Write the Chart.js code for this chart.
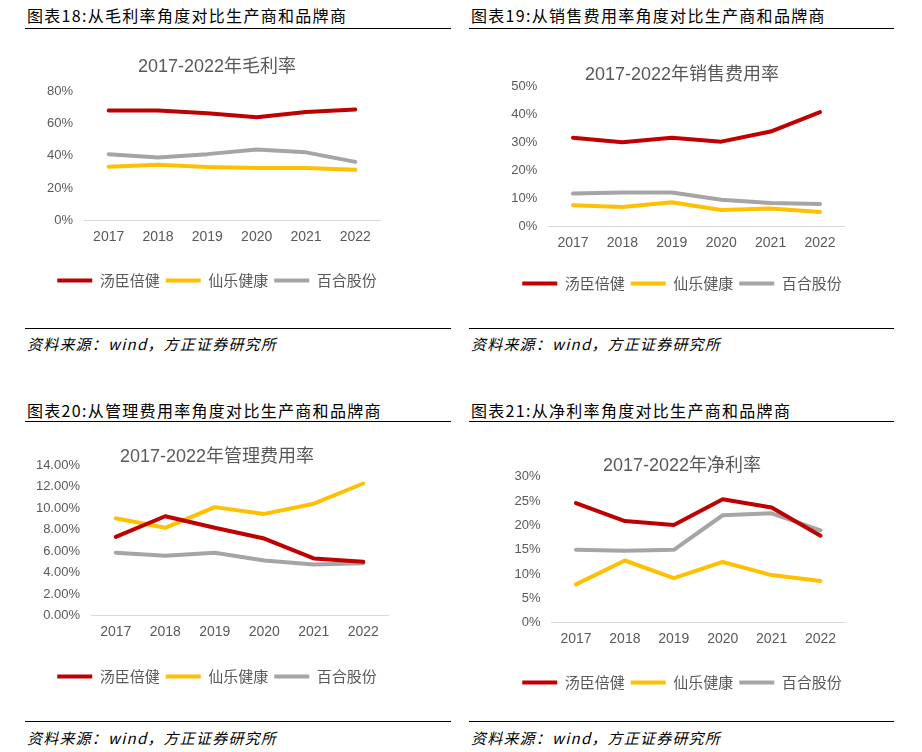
<!DOCTYPE html>
<html>
<head>
<meta charset="utf-8">
<script src="https://cdn.jsdelivr.net/npm/chart.js@4.4.1/dist/chart.umd.min.js"></script>
<style>
  body { margin: 0; background: #fff; width: 922px; height: 752px; position: relative; overflow: hidden; }
  .head { position: absolute; font-family: "Noto Sans CJK SC", sans-serif; font-size: 16px; letter-spacing: 1.3px; color: #000; line-height: 20px; white-space: nowrap; }
  .src { position: absolute; font-family: "Noto Sans CJK SC", sans-serif; font-style: italic; font-size: 15px; letter-spacing: 1.2px; color: #000; line-height: 20px; white-space: nowrap; }
  .rule { position: absolute; height: 1px; background: #000; }
  canvas { position: absolute; }
</style>
</head>
<body>
<div class="head" style="left:27px;top:5px">图表18:从毛利率角度对比生产商和品牌商</div>
<div class="rule" style="left:25px;top:28px;width:426px"></div>
<div class="head" style="left:471px;top:5px">图表19:从销售费用率角度对比生产商和品牌商</div>
<div class="rule" style="left:469px;top:28px;width:425px"></div>
<div class="rule" style="left:25px;top:328px;width:426px"></div>
<div class="src" style="left:27px;top:334px">资料来源：wind，方正证券研究所</div>
<div class="rule" style="left:469px;top:328px;width:425px"></div>
<div class="src" style="left:471px;top:334px">资料来源：wind，方正证券研究所</div>

<div class="head" style="left:27px;top:400px">图表20:从管理费用率角度对比生产商和品牌商</div>
<div class="rule" style="left:25px;top:421px;width:426px"></div>
<div class="head" style="left:471px;top:400px">图表21:从净利率角度对比生产商和品牌商</div>
<div class="rule" style="left:469px;top:421px;width:425px"></div>
<div class="rule" style="left:25px;top:721px;width:426px"></div>
<div class="src" style="left:27px;top:728px">资料来源：wind，方正证券研究所</div>
<div class="rule" style="left:469px;top:721px;width:425px"></div>
<div class="src" style="left:471px;top:728px">资料来源：wind，方正证券研究所</div>

<canvas id="c1" width="384" height="258" style="left:25px;top:40px"></canvas>
<canvas id="c2" width="424" height="261" style="left:470px;top:40px"></canvas>
<canvas id="c3" width="384" height="264" style="left:25px;top:430px"></canvas>
<canvas id="c4" width="424" height="270" style="left:470px;top:430px"></canvas>

<script>
// 年份和公司
const years = ["2017", "2018", "2019", "2020", "2021", "2022"];
const companies = ["汤臣倍健", "仙乐健康", "百合股份"];
const colors = ["#C00000", "#FFC000", "#A5A5A5"];

// 毛利率 (%)
const grossTC = [68.0, 68.0, 66.3, 63.8, 67.0, 68.6];
const grossXL = [33.2, 34.5, 33.0, 32.4, 32.4, 31.3];
const grossBH = [41.0, 38.9, 41.0, 43.8, 42.1, 36.2];

// 销售费用率 (%)
const salesTC = [31.6, 30.0, 31.6, 30.2, 33.8, 40.7];
const salesXL = [7.6, 6.9, 8.6, 5.9, 6.4, 5.2];
const salesBH = [11.7, 12.1, 12.1, 9.5, 8.4, 8.0];

// 管理费用率 (%)
const adminTC = [7.32, 9.23, 8.16, 7.16, 5.31, 4.99];
const adminXL = [9.04, 8.16, 10.08, 9.45, 10.40, 12.28];
const adminBH = [5.84, 5.56, 5.84, 5.12, 4.74, 4.87];

// 净利率 (%)
const netTC = [24.6, 20.9, 20.1, 25.4, 23.7, 17.9];
const netXL = [7.9, 12.8, 9.2, 12.5, 9.8, 8.6];
const netBH = [15.0, 14.8, 15.0, 22.1, 22.5, 19.0];

const textGray = "#595959";
const fontFamily = "'Liberation Sans', 'Noto Sans CJK SC', sans-serif";

function makeChart(id, title, series, cfg) {
  const ctx = document.getElementById(id).getContext("2d");
  return new Chart(ctx, {
    type: "line",
    data: {
      labels: years,
      datasets: series.map((vals, i) => ({
        label: companies[i],
        data: vals,
        borderColor: colors[i],
        backgroundColor: colors[i],
        borderWidth: 4,
        pointRadius: 0,
        tension: 0,
        borderJoinStyle: "round",
        borderCapStyle: "round",
      })),
    },
    options: {
      responsive: false,
      animation: false,
      devicePixelRatio: 1,
      layout: { padding: 0 },
      plugins: {
        title: {
          display: true,
          text: title,
          color: textGray,
          font: { family: fontFamily, size: 18, weight: "normal" },
          padding: cfg.titlePad,
        },
        legend: {
          position: "bottom",
          labels: {
            usePointStyle: true,
            pointStyle: "line",
            pointStyleWidth: 35,
            color: textGray,
            font: { family: "'Noto Sans CJK SC', sans-serif", size: 15 },
            padding: 6,
          },
        },
        tooltip: { enabled: false },
      },
      scales: {
        x: {
          offset: true,
          grid: { display: false, drawTicks: false },
          border: { color: "#D9D9D9", width: 1 },
          ticks: { color: textGray, font: { family: fontFamily, size: 14 }, padding: 8 },
          afterFit: (s) => { s.height = cfg.xH; },
        },
        y: {
          min: 0,
          max: cfg.max,
          grid: { display: false, drawTicks: false },
          border: { display: false },
          ticks: {
            stepSize: cfg.step,
            color: textGray,
            font: { family: fontFamily, size: 13 },
            padding: 11,
            callback: cfg.fmt,
          },
          afterFit: (s) => { s.width = cfg.yW; },
        },
        // 右侧留白
        pad: {
          type: "linear",
          position: "right",
          grid: { display: false, drawTicks: false },
          border: { display: false },
          ticks: { display: false },
          afterFit: (s) => { s.width = cfg.rW; },
        },
      },
    },
  });
}

const pct = (v) => v + "%";
const pct2 = (v) => v.toFixed(2) + "%";

makeChart("c1", "2017-2022年毛利率", [grossTC, grossXL, grossBH],
  { max: 80, step: 20, fmt: pct, yW: 59, rW: 29, xH: 46.5, titlePad: { top: 16.2, bottom: 13.2 } });
makeChart("c2", "2017-2022年销售费用率", [salesTC, salesXL, salesBH],
  { max: 50, step: 10, fmt: pct, yW: 78.3, rW: 49.3, xH: 43.5, titlePad: { top: 24.2, bottom: 0.2 } });
makeChart("c3", "2017-2022年管理费用率", [adminTC, adminXL, adminBH],
  { max: 14, step: 2, fmt: pct2, yW: 66, rW: 21, xH: 47.5, titlePad: { top: 16.5, bottom: -3.1 } });
makeChart("c4", "2017-2022年净利率", [netTC, netXL, netBH],
  { max: 30, step: 5, fmt: pct, yW: 81.5, rW: 49, xH: 46.2, titlePad: { top: 25.2, bottom: 0 } });
</script>
</body>
</html>
